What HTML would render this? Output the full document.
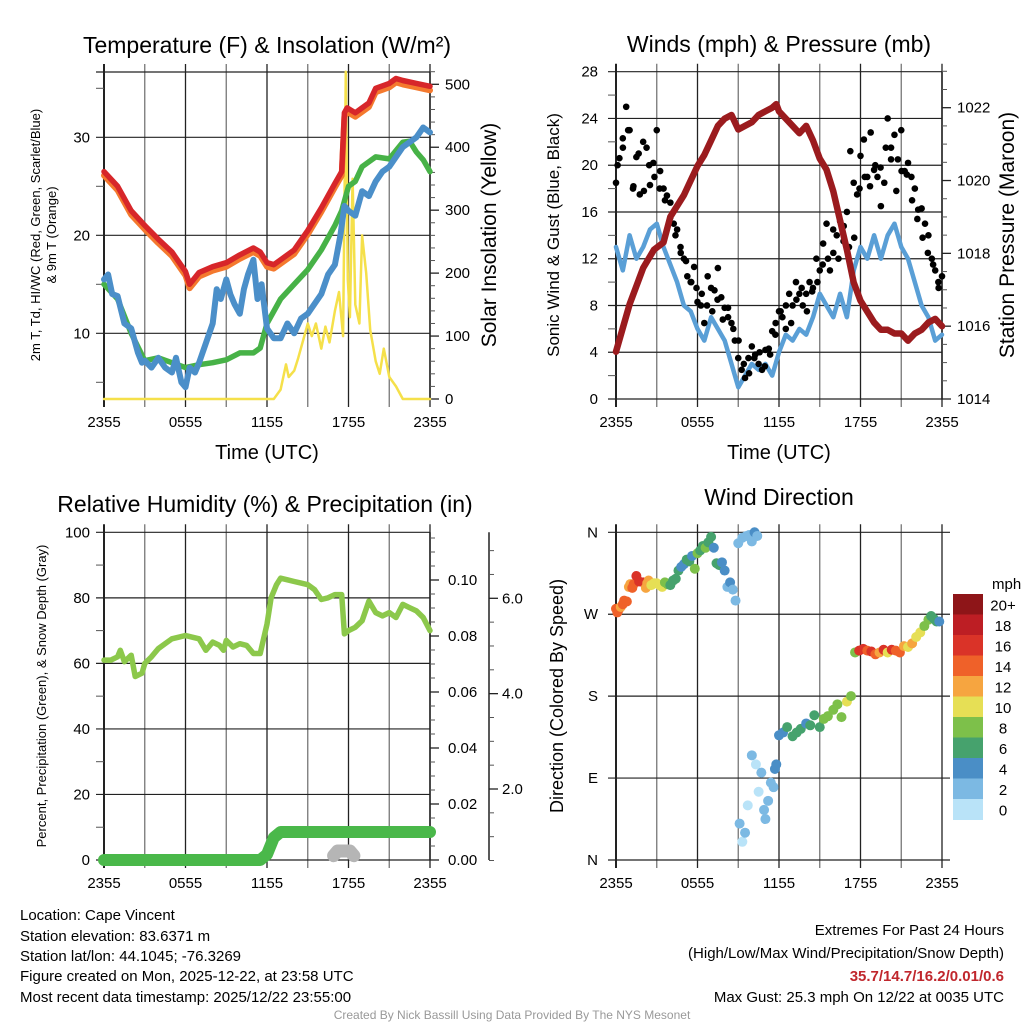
<!DOCTYPE html>
<html><head><meta charset="utf-8"><style>
html,body{margin:0;padding:0;background:#fff;}
svg{display:block;font-family:"Liberation Sans",sans-serif;}
</style></head><body>
<svg id="chart" width="1024" height="1024" viewBox="0 0 1024 1024" xmlns="http://www.w3.org/2000/svg">
<g id="layer"></g>
<text x="20" y="920" font-size="15">Location: Cape Vincent</text>
<text x="20" y="941" font-size="15">Station elevation: 83.6371 m</text>
<text x="20" y="961" font-size="15">Station lat/lon: 44.1045; -76.3269</text>
<text x="20" y="981" font-size="15">Figure created on Mon, 2025-12-22, at 23:58 UTC</text>
<text x="20" y="1002" font-size="15">Most recent data timestamp: 2025/12/22 23:55:00</text>
<text x="1004" y="935" font-size="15" text-anchor="end">Extremes For Past 24 Hours</text>
<text x="1004" y="958" font-size="15" text-anchor="end">(High/Low/Max Wind/Precipitation/Snow Depth)</text>
<text x="1004" y="981" font-size="15" font-weight="bold" fill="#c0272d" text-anchor="end">35.7/14.7/16.2/0.01/0.6</text>
<text x="1004" y="1002" font-size="15" text-anchor="end">Max Gust: 25.3 mph On 12/22 at 0035 UTC</text>
<text x="512" y="1019" font-size="12" fill="#999" text-anchor="middle">Created By Nick Bassill Using Data Provided By The NYS Mesonet</text>
</svg>
<script>
// ---------- data ----------
const xTickLabels = ["2355","0555","1155","1755","2355"];
const tempT = [0,1,2,3,4,5,6,6.3,6.6,7,8,9,10,11,11.5,12,12.5,13,14,15,16,17,17.5,17.7,17.9,18.5,19,19.5,20,21,21.5,22,23,24];
const tempV = [26.5,25,22.5,21,19.6,18.3,16.3,15,15.5,16.2,16.8,17.2,18,18.7,18.3,17.2,17,17.5,18.5,20.5,22.8,25.3,26.5,32.5,33,32.5,33,33.5,35,35.5,36,35.8,35.5,35.2];
const dewT = [0,0.3,0.6,1,1.5,2,2.5,2.8,3,3.5,4,4.5,5,5.3,5.7,6,6.3,6.7,7,7.5,8,8.3,8.6,9,9.3,9.6,10,10.3,10.6,11,11.3,11.6,12,12.5,13,13.5,14,14.5,15,15.5,16,16.5,17,17.4,17.7,18,18.5,19,19.5,20,20.5,21,21.5,22,22.5,23,23.5,24];
const dewV = [15.5,16,14,13.8,11,10.5,8,7,7.2,6.5,7.5,6.5,6,7.5,5,4.5,6.5,6,7,9,11,14.5,13.5,15.5,14,13,12,14.5,16,17.5,13.5,15,10.5,9.5,9.5,11,10,11.5,12,13,14,16,17,20,23,22.5,22,24.5,24,25.5,26.5,27,28,29,29.5,30,31,30.5];
const wcT = [0,1,2,3,4,5,6,7,8,9,10,11,11.5,12,13,14,15,16,17,17.5,18,18.5,19,20,21,22,22.5,23,23.5,24];
const wcV = [15,13.5,10,7.2,7.5,7,6.5,6.8,7,7.3,8,8,8.5,11,13.5,15,16.5,18.5,21,22.5,25,25.5,27,28,27.8,29.5,29.6,28.5,27.7,26.5];
const solT = [0,12.5,13,13.4,13.6,14,14.3,15,15.3,15.6,16,16.3,16.6,17,17.3,17.6,17.8,17.95,18.1,18.3,18.5,18.8,19,19.3,19.6,20,20.3,20.6,21,21.5,22,24];
const solV = [0,0,15,55,35,45,65,120,100,120,80,115,90,140,170,100,520,190,130,350,150,120,260,200,110,60,40,80,35,20,0,0];
const windT = [0,0.5,1,1.5,2,2.5,3,3.5,4,4.5,5,5.5,6,6.5,7,7.5,8,8.5,9,9.5,10,10.5,11,11.5,12,12.5,13,13.5,14,14.5,15,15.5,16,16.5,17,17.5,18,18.5,19,19.5,20,20.5,21,21.5,22,22.5,23,23.5,24];
const windV = [13,11,14,12,13,14.5,15,13,11.5,10,8,7.5,6,5,7,6,5,3,1,2,3,2.5,3,2,4,5.5,5,6,5.5,7,9,8,7,9,7,11,13,12,14,12,14,15,13,12,10,8,7,5,5.5];
const gustV = [18.5,20.6,22.3,25,23,18,20.7,17.5,22,21.5,18.3,20.2,23,19.5,18,17.4,16.8,15,14.5,13,12,10.5,10,11.3,8.3,8,6.5,10.5,9.5,9.3,11.2,8.7,7.8,7,6.5,5,3.5,2.5,1.8,3.5,4.5,3.8,3,2.5,4.2,4.3,5.8,6.5,7.5,7,6,9,8,10,9,8,9,10,9.5,12,11,13.3,15,11,12.5,14,15.2,13.5,16,21.2,18.5,17.5,20.8,22.2,19,22.8,19.6,19,16.5,18.5,24,21.5,22.6,20.5,23,19.5,20.2,19,18,16.2,16.3,15,14,12,11,9.5,10.5];
const gust2V = [20,21.5,23,18.2,21,17.8,20,19,18,17,15.5,14,12.5,11.8,10,9.5,9,8,7.5,8.5,6.8,7.8,6,5,3,2.2,3.5,4,2.8,3.8,5.5,7.5,8,6.5,8.5,9.5,7.5,9.2,10,11.5,12,14.5,12,14.8,13,13.8,18,19,18.2,20,19.8,21.5,20.5,17.8,19.5,19.2,17,15.4,13.8,12.5,11.5,10];
const presT = [0,1,2,2.8,3.5,4,4.5,5,5.5,6,6.5,7,7.5,8,8.5,9,9.5,10,10.5,11,11.5,11.8,12,12.5,13,13.5,14,14.5,15,15.5,16,16.5,17,17.5,18,18.5,19,19.5,20,20.5,21,21.5,22,22.5,23,23.5,24];
const presV = [1015.3,1016.6,1017.6,1018.1,1018.3,1019,1019.3,1019.6,1020,1020.4,1020.7,1021.1,1021.5,1021.7,1021.8,1021.4,1021.5,1021.6,1021.8,1021.9,1022.0,1022.1,1021.9,1021.7,1021.5,1021.3,1021.5,1021.1,1020.6,1020.3,1019.7,1018.9,1018.1,1017.2,1016.7,1016.4,1016.1,1015.9,1015.9,1015.8,1015.8,1015.6,1015.8,1015.9,1016.1,1016.2,1016.0];
const rhT = [0,0.5,1,1.2,1.5,2,2.3,2.8,3,3.5,4,4.5,5,5.5,6,6.5,7,7.5,8,8.5,8.8,9,9.5,10,10.5,11,11.5,12,12.3,12.7,13,13.5,14,14.5,15,15.5,16,16.5,17,17.5,17.7,18,18.5,19,19.5,20,20.5,21,21.5,22,22.5,23,23.5,24];
const rhV = [61,61,62,64,60.5,62.5,56,57,60,62,64.5,66,67.5,68,68.5,68,67.5,64,66.5,65.5,64,67,65,66,65.5,63,63,72,80,84,86,85.5,85,84.5,84,82.5,79.5,80,81,81,69,70,71,73,79,75.5,74.5,75.5,74,78,77,76,74,70];
const precipT = [0,11.5,12,12.5,13,24];
const precipV = [0,0,0.002,0.008,0.01,0.01];
const snowT = [16.9,17.2,17.5,17.8,18.1,18.4];
const snowV = [0.6,0.7,0.7,0.7,0.7,0.6];
const wdT = [0,0.1,0.2,0.35,0.5,0.6,0.8,0.95,1.05,1.2,1.3,1.5,1.7,2,2.2,2.3,2.4,2.6,2.8,3,3.2,3.4,3.6,3.8,4,4.2,4.4,4.6,4.8,5,5.2,5.4,5.6,5.8,6,6.2,6.4,6.6,6.8,7,7.2,7.4,7.6,7.8,8,8.2,8.4,8.6,8.8,9,9.3,9.6,9.8,10,10.2,10.4,9.1,9.3,9.5,9.7,10,10.3,10.5,10.7,10.9,11,11.2,11.4,11.6,11.7,11.8,12,12.3,12.6,13,13.3,13.6,14,14.3,14.6,15,15.3,15.6,16,16.3,16.6,17,17.3,17.6,17.9,18.2,18.5,18.8,19.1,19.4,19.7,20,20.3,20.6,20.9,21.2,21.5,21.8,22.1,22.4,22.7,23,23.2,23.4,23.6,23.8,24];
const wdV = [276,272,275,278,281,285,284,300,303,299,303,312,306,305,299,304,307,302,304,304,302,300,305,303,302,307,309,318,322,325,330,328,334,320,337,340,345,343,349,355,343,326,324,327,318,300,305,297,285,348,354,356,357,350,360,356,40,20,30,60,115,105,75,96,55,45,65,85,80,100,105,137,140,146,136,140,144,150,148,159,146,155,158,165,171,157,174,180,228,230,232,230,229,226,228,231,228,231,230,228,235,234,238,245,250,257,264,268,265,262,262];
const wdS = [14,13,13,12,13,14,13,12,12,13,14,16,15,15,12,11,12,10,9,9,9,9,8,7,6,6,6,5,4,4,5,6,4,8,7,6,6,7,6,6,4,5,6,4,3,2,3,2,2,1,1,1,2,2,3,2,1,0,1,0,1,0,0,1,1,2,2,2,2,3,3,4,4,5,6,5,5,4,6,6,6,7,8,8,8,7,10,8,8,15,15,14,16,13,12,15,10,16,14,13,12,10,11,10,9,8,7,6,5,5,4];
const cbLabels = ["20+","18","16","14","12","10","8","6","4","2","0"];
const cbColors = ["#8e1518","#bd1e24","#da3328","#ef6129","#f6a540","#e6df55","#7dc04a","#46a26d","#4a8ec6","#7cb9e3","#b9e3f8"];

// ---------- helpers ----------
const NS = "http://www.w3.org/2000/svg";
const layer = document.getElementById("layer");
function mk(tag, attrs, parent){
  const e = document.createElementNS(NS, tag);
  for (const k in attrs) e.setAttribute(k, attrs[k]);
  (parent||layer).appendChild(e);
  return e;
}
function txt(s, attrs, parent){ const e = mk("text", attrs, parent); e.textContent = s; return e; }
const X0 = 104, X1 = 430;
function xs(off){ return t => off + X0 + (t/24)*(X1-X0); }
function lin(d0,d1,r0,r1){ return v => r0 + (v-d0)/(d1-d0)*(r1-r0); }
function pathD(T,V,sx,sy){ return T.map((t,i)=>(i?"L":"M")+sx(t).toFixed(1)+","+sy(V[i]).toFixed(1)).join(""); }

function frame(off, y0, y1, name){
  const g = mk("g", {});
  
  
  const sx = xs(off);
  for (let h=0; h<=24; h+=3){
    const l = mk("line",{x1:sx(h),x2:sx(h),y1:y0-8,y2:y1+8,stroke:(h%6===0)?"#222":"#777","stroke-width":(h===0)?2:1.3},g);
    
    
  }
  for (let i=0;i<5;i++){
    const t = txt(xTickLabels[i],{x:sx(i*6),y:y1+28,"font-size":15,"text-anchor":"middle"},g);
    
    
  }
  return g;
}
function hgrid(g, off, y, label, lx, ext){
  const l = mk("line",{x1:off+X0-8,x2:off+X1+(ext||0),y1:y,y2:y,stroke:"#222","stroke-width":1.2},g);
  
  
  if (label!==null){
    const t = txt(label,{x:lx,y:y+5,"font-size":15,"text-anchor":"end"},g);
    
    
  }
}
function rightAxis(g, xA, ticks, sy, fmt, lx, minor){
  const a = mk("line",{x1:xA,x2:xA,y1:sy.top,y2:sy.bot,stroke:"#222","stroke-width":1.5},g);
  
  
  minor.forEach(v=>{ const y=sy(v); if(y>=sy.top-1&&y<=sy.bot+1) mk("line",{x1:xA,x2:xA+5,y1:y,y2:y,stroke:"#555","stroke-width":1},g); });
  ticks.forEach(v=>{
    const y=sy(v);
    mk("line",{x1:xA,x2:xA+9,y1:y,y2:y,stroke:"#222","stroke-width":1.3},g);
    const t = txt(fmt(v),{x:lx,y:y+5,"font-size":15},g);
    
    
  });
}
function vtitle(s, x, y, size, name){
  const t = txt(s,{x:0,y:0,"font-size":size,"text-anchor":"middle",transform:`translate(${x},${y}) rotate(-90)`});
  
  
  return t;
}
function title(s,x,y,name){
  const t = txt(s,{x:x,y:y,"font-size":23,"text-anchor":"middle"});
  
  
  return t;
}
function poly(T,V,sx,sy,color,w,name){
  const p = mk("path",{d:pathD(T,V,sx,sy),fill:"none",stroke:color,"stroke-width":w,"stroke-linejoin":"round","stroke-linecap":"round"});
  
  
  return p;
}

// ---------- Panel 1: temperature ----------
{
  const y0=72,y1=399, sx=xs(0);
  const sy = lin(10,30,333.3,137.3); sy.top=y0; sy.bot=y1;
  const sr = lin(0,500,399,84.3); sr.top=y0; sr.bot=y1;
  const g = frame(0,y0,y1,"temperature-panel");
  hgrid(g,0,y0,null,0,0);
  [10,20,30].forEach(v=>hgrid(g,0,sy(v),String(v),90,0));
  [5,15,25,35].forEach(v=>mk("line",{x1:96,x2:104,y1:sy(v),y2:sy(v),stroke:"#555"},g));
  rightAxis(g,X1,[0,100,200,300,400,500],sr,v=>String(v),445,[20,40,60,80,120,140,160,180,220,240,260,280,320,340,360,380,420,440,460,480,520]);
  title("Temperature (F) & Insolation (W/m²)",267,53,"temperature-title");
  vtitle("2m T, Td, HI/WC (Red, Green, Scarlet/Blue)",40,235,13,"temperature-y-title-line1");
  vtitle("& 9m T (Orange)",56,235,13,"temperature-y-title-line2");
  vtitle("Solar Insolation (Yellow)",496,235,21,"insolation-y-title");
  const tt = txt("Time (UTC)",{x:267,y:459,"font-size":20,"text-anchor":"middle"});
  
  
  poly(solT,solV,sx,sr,"#f5e04a",2.5,"insolation-line");
  poly(wcT,wcV,sx,sy,"#47b247",5.5,"windchill-line");
  poly(dewT,dewV,sx,sy,"#4b8fc9",6,"dewpoint-line");
  poly(tempT,tempV.map(v=>v-0.4),sx,sy,"#f4792e",6,"temp-9m-line");
  poly(tempT,tempV,sx,sy,"#d7262a",5.5,"temp-2m-line");
}
// ---------- Panel 2: winds ----------
{
  const off=512, y0=71.7,y1=399, sx=xs(off);
  const sy = lin(0,28,399,71.7); sy.top=y0; sy.bot=y1;
  const sp = lin(1014,1022,399,107.7); sp.top=y0; sp.bot=y1;
  const g = frame(off,y0,y1,"winds-panel");
  [0,4,8,12,16,20,24,28].forEach(v=>hgrid(g,off,sy(v),String(v),598,0));
  [2,6,10,14,18,22,26].forEach(v=>mk("line",{x1:608,x2:616,y1:sy(v),y2:sy(v),stroke:"#555"},g));
  rightAxis(g,off+X1,[1014,1016,1018,1020,1022],sp,v=>String(v),957,[1014.5,1015,1015.5,1016.5,1017,1017.5,1018.5,1019,1019.5,1020.5,1021,1021.5,1022.5,1023]);
  title("Winds (mph) & Pressure (mb)",779,52,"winds-title");
  vtitle("Sonic Wind & Gust (Blue, Black)",559,235,17,"wind-y-title");
  vtitle("Station Pressure (Maroon)",1014,235,21,"pressure-y-title");
  const tt = txt("Time (UTC)",{x:779,y:459,"font-size":20,"text-anchor":"middle"});
  
  
  poly(windT,windV,sx,sy,"#5a9fd6",4.5,"wind-speed-line");
  gustV.forEach((v,i)=>{
    const c = mk("circle",{cx:sx(i*0.25),cy:sy(v),r:3.3,fill:"#000"});
    
    
  });
  gust2V.forEach((v,i)=>{
    const c = mk("circle",{cx:sx(0.12+i*(24/gust2V.length)),cy:sy(v),r:3.3,fill:"#000"});
    
    
  });
  poly(presT,presV,sx,sp,"#9b1b1e",6.5,"pressure-line");
}
// ---------- Panel 3: RH ----------
{
  const y0=532.3,y1=860, sx=xs(0);
  const sy = lin(0,100,860,532.3); sy.top=y0; sy.bot=y1;
  const spr = lin(0,0.1,860,580); spr.top=y0; spr.bot=y1;
  const ssn = lin(2,6,789,598.3); ssn.top=y0; ssn.bot=y1;
  const g = frame(0,y0,y1,"humidity-panel");
  [0,20,40,60,80,100].forEach(v=>hgrid(g,0,sy(v),String(v),90,0));
  [10,30,50,70,90].forEach(v=>mk("line",{x1:96,x2:104,y1:sy(v),y2:sy(v),stroke:"#555"},g));
  rightAxis(g,X1,[0,0.02,0.04,0.06,0.08,0.1],spr,v=>v.toFixed(2),448,[0.005,0.01,0.015,0.025,0.03,0.035,0.045,0.05,0.055,0.065,0.07,0.075,0.085,0.09,0.095,0.105,0.11,0.115]);
  rightAxis(g,489,[2,4,6],ssn,v=>v.toFixed(1),502,[0.5,1,1.5,2.5,3,3.5,4.5,5,5.5,6.5,7]);
  title("Relative Humidity (%) & Precipitation (in)",265,512,"humidity-title");
  vtitle("Percent, Precipitation (Green), & Snow Depth (Gray)",46,696,13,"humidity-y-title");
  poly(rhT,rhV,sx,sy,"#8cc84b",5.5,"rh-line");
  poly(precipT,precipV,sx,spr,"#4ab84a",12,"precip-line");
  poly(snowT,snowV,sx,ssn,"#b5b5b5",13,"snow-depth-line");
}
// ---------- Panel 4: wind direction ----------
{
  const off=512, y0=532.3,y1=860, sx=xs(off);
  const sy = lin(0,360,860,532.3);
  const g = frame(off,y0,y1,"wind-direction-panel");
  [[0,"N"],[90,"E"],[180,"S"],[270,"W"],[360,"N"]].forEach(d=>hgrid(g,off,sy(d[0]),d[1],598,8));
  title("Wind Direction",779,505,"wind-direction-title");
  vtitle("Direction (Colored By Speed)",563,696,18,"direction-y-title");
  wdV.forEach((v,i)=>{
    const s = wdS[i];
    const bin = Math.min(10, Math.floor((s+1)/2));
    const c = mk("circle",{cx:sx(wdT[i]),cy:sy(v),r:5,fill:cbColors[10-bin]});
    
    
  });
  const cb = mk("g",{});
  
  
  const top=594, h=20.5;
  cbColors.forEach((c,i)=>{
    const r = mk("rect",{x:953,y:top+i*h,width:30,height:h+0.5,fill:c},cb);
    
    
    const t = txt(cbLabels[i],{x:1003,y:top+i*h+h/2+6,"font-size":15,"text-anchor":"middle"},cb);
    
    
  });
  const u = txt("mph",{x:992,y:589,"font-size":15},cb);
  
  
}
</script>
</body></html>
